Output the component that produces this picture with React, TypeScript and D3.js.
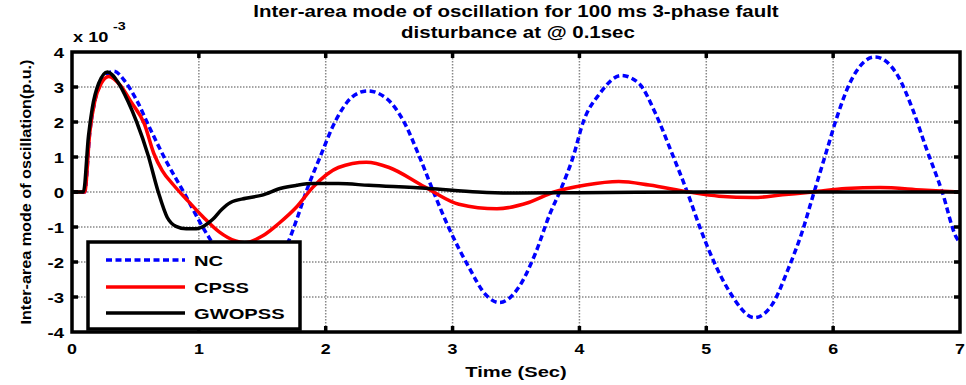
import React from "react";
import * as d3 from "d3";

const xTicks = [0, 1, 2, 3, 4, 5, 6, 7];
const yTicks = [-4, -3, -2, -1, 0, 1, 2, 3, 4];

const ncTime = [0, 0.1, 0.14, 0.18, 0.24, 0.33, 0.42, 0.51, 0.61, 0.74, 0.88, 1.03, 1.11, 1.2, 1.35, 1.5, 1.62, 1.71, 1.77, 1.85, 1.95, 2.08, 2.21, 2.33, 2.48, 2.61, 2.74, 2.85, 2.97, 3.13, 3.26, 3.37, 3.52, 3.65, 3.77, 3.85, 3.95, 4.03, 4.16, 4.33, 4.47, 4.6, 4.73, 4.85, 4.96, 5.07, 5.18, 5.38, 5.52, 5.65, 5.75, 5.85, 5.95, 6.03, 6.13, 6.33, 6.5, 6.63, 6.73, 6.86, 6.97, 7.0];
const ncValues = [0, 0, 1.7, 2.6, 3.2, 3.45, 3.15, 2.62, 1.85, 0.9, 0.0, -1.0, -1.47, -1.95, -2.65, -2.4, -1.95, -1.38, -0.8, 0.05, 0.95, 2.05, 2.72, 2.89, 2.67, 2.05, 1.0, 0.0, -1.02, -2.16, -2.93, -3.16, -2.73, -1.78, -0.6, 0.05, 1.0, 2.0, 2.81, 3.33, 3.1, 2.24, 1.1, 0.0, -1.11, -2.07, -2.83, -3.59, -3.21, -2.16, -1.2, 0.0, 1.19, 2.14, 3.1, 3.86, 3.38, 2.33, 1.29, 0.0, -1.29, -1.45];

const cpssTime = [0, 0.1, 0.14, 0.18, 0.23, 0.29, 0.38, 0.47, 0.57, 0.645, 0.71, 0.8, 0.9, 1.03, 1.16, 1.29, 1.36, 1.5, 1.63, 1.77, 1.9, 2.1, 2.32, 2.5, 2.74, 2.85, 3.05, 3.35, 3.6, 3.8, 4.05, 4.31, 4.55, 4.86, 5.1, 5.37, 5.6, 5.84, 6.1, 6.37, 6.7, 7.0];
const cpssValues = [0, 0, 1.7, 2.6, 3.1, 3.3, 3.05, 2.55, 1.95, 1.1, 0.62, 0.2, -0.2, -0.7, -1.14, -1.4, -1.45, -1.26, -0.9, -0.43, 0.14, 0.7, 0.85, 0.7, 0.23, 0.0, -0.35, -0.48, -0.3, 0.0, 0.2, 0.3, 0.2, 0.0, -0.12, -0.16, -0.08, 0.0, 0.1, 0.13, 0.06, 0.0];

const gwoTime = [0, 0.09, 0.13, 0.16, 0.21, 0.28, 0.36, 0.44, 0.51, 0.6, 0.68, 0.75, 0.82, 0.9, 0.98, 1.05, 1.11, 1.18, 1.25, 1.37, 1.5, 1.64, 1.77, 1.9, 2.1, 2.34, 2.81, 3.2, 3.5, 4.0, 5.0, 7.0];
const gwoValues = [0, 0, 1.6, 2.4, 3.1, 3.43, 3.15, 2.6, 2.0, 1.05, 0.0, -0.72, -0.98, -1.05, -1.05, -0.95, -0.78, -0.5, -0.3, -0.18, -0.09, 0.1, 0.19, 0.24, 0.24, 0.19, 0.1, 0.0, -0.03, -0.02, 0.0, 0.0];

const legendNames = ["NC", "CPSS", "GWOPSS"];
const colors = ["#0000ff", "#ff0000", "#000000"];

const W = 966, H = 385;
const M = { left: 72, right: 960, top: 52, bottom: 332 };
const FONT = "Arial, 'Liberation Sans', Helvetica, sans-serif";
const SX = 1.3;

function T(props: { x: number; y: number; size: number; anchor?: string; children: React.ReactNode; sx?: number }) {
  const { x, y, size, anchor, children, sx } = props;
  const tr = `translate(${x},${y}) scale(${sx || SX},1)`;
  return (
    <text transform={tr} textAnchor={anchor || "start"} fontSize={size}>
      {children}
    </text>
  );
}

export default function App() {
  const x = d3.scaleLinear().domain([0, 7]).range([M.left, M.right]);
  const y = d3.scaleLinear().domain([-4, 4]).range([M.bottom, M.top]);
  const line = d3
    .line<[number, number]>()
    .x((d) => x(d[0]))
    .y((d) => y(d[1]))
    .curve(d3.curveMonotoneX);
  const mk = (t: number[], v: number[]) => line(t.map((tt, i) => [tt, v[i]] as [number, number])) || "";
  const series = [
    { d: mk(ncTime, ncValues), color: colors[0], dash: "6,3.5" },
    { d: mk(cpssTime, cpssValues), color: colors[1], dash: undefined },
    { d: mk(gwoTime, gwoValues), color: colors[2], dash: undefined },
  ];
  const lx = 88, ly = 242, lw = 212, lh = 87;
  const entryY = [260, 287, 313];

  return (
    <svg
      width={W}
      height={H}
      style={{ position: "absolute", left: 0, top: 0, background: "#fff" }}
      fontFamily={FONT}
      fontWeight="bold"
    >
      <rect x={0} y={0} width={W} height={H} fill="#fff" />
      <defs>
        <clipPath id="plot">
          <rect x={M.left} y={M.top} width={M.right - M.left} height={M.bottom - M.top} />
        </clipPath>
      </defs>
      {/* grid */}
      {xTicks.slice(1, -1).map((t) => (
        <line key={"gx" + t} x1={x(t)} x2={x(t)} y1={M.top} y2={M.bottom} stroke="#888" strokeWidth={1.5} strokeDasharray="1.5,1.5" />
      ))}
      {yTicks.slice(1, -1).map((t) => (
        <line key={"gy" + t} y1={y(t)} y2={y(t)} x1={M.left} x2={M.right} stroke="#888" strokeWidth={1.5} strokeDasharray="1.5,1.5" />
      ))}
      {/* series */}
      <g clipPath="url(#plot)">
        {series.map((s, i) => (
          <path key={i} d={s.d} fill="none" stroke={s.color} strokeWidth={3.5} strokeDasharray={s.dash} strokeLinejoin="round" />
        ))}
      </g>
      {/* ticks */}
      {xTicks.slice(1, -1).map((t) => (
        <g key={"tx" + t}>
          <line x1={x(t)} x2={x(t)} y1={M.bottom} y2={M.bottom - 6} stroke="#000" strokeWidth={3.5} />
          <line x1={x(t)} x2={x(t)} y1={M.top} y2={M.top + 6} stroke="#000" strokeWidth={3.5} />
        </g>
      ))}
      {yTicks.slice(1, -1).map((t) => (
        <g key={"ty" + t}>
          <line x1={M.left} x2={M.left + 6} y1={y(t)} y2={y(t)} stroke="#000" strokeWidth={3.5} />
          <line x1={M.right} x2={M.right - 6} y1={y(t)} y2={y(t)} stroke="#000" strokeWidth={3.5} />
        </g>
      ))}
      {/* frame */}
      <rect x={M.left} y={M.top} width={M.right - M.left} height={M.bottom - M.top} fill="none" stroke="#000" strokeWidth={3.5} />
      {/* tick labels */}
      {xTicks.map((t) => (
        <T key={"lx" + t} x={x(t)} y={354} anchor="middle" size={15.5} sx={1.15}>
          {t}
        </T>
      ))}
      {yTicks.map((t) => (
        <T key={"ly" + t} x={64} y={y(t) + 5.5} anchor="end" size={15.5} sx={1.2}>
          {t}
        </T>
      ))}
      {/* exponent */}
      <T x={73} y={42} size={14}>x 10</T>
      <T x={113} y={30} size={11}>-3</T>
      {/* title */}
      <T x={516} y={17} anchor="middle" size={16} sx={1.28}>
        Inter-area mode of oscillation for 100 ms 3-phase fault
      </T>
      <T x={518} y={38} anchor="middle" size={16} sx={1.28}>
        disturbance at @ 0.1sec
      </T>
      {/* axis labels */}
      <T x={516} y={377} anchor="middle" size={15.5}>
        Time (Sec)
      </T>
      <text
        transform="translate(31,192) rotate(-90)"
        textAnchor="middle"
        fontSize={15.5}
        textLength={265}
        lengthAdjust="spacingAndGlyphs"
      >
        Inter-area mode of oscillation(p.u.)
      </text>
      {/* legend */}
      <rect x={lx} y={ly} width={lw} height={lh} fill="#fff" stroke="#000" strokeWidth={3.5} />
      {legendNames.map((n, i) => (
        <g key={n}>
          <line x1={106} x2={185} y1={entryY[i]} y2={entryY[i]} stroke={colors[i]} strokeWidth={3.5} strokeDasharray={i === 0 ? "6,3.5" : undefined} />
          <T x={194} y={entryY[i] + 5.5} size={15.5}>
            {n}
          </T>
        </g>
      ))}
    </svg>
  );
}
